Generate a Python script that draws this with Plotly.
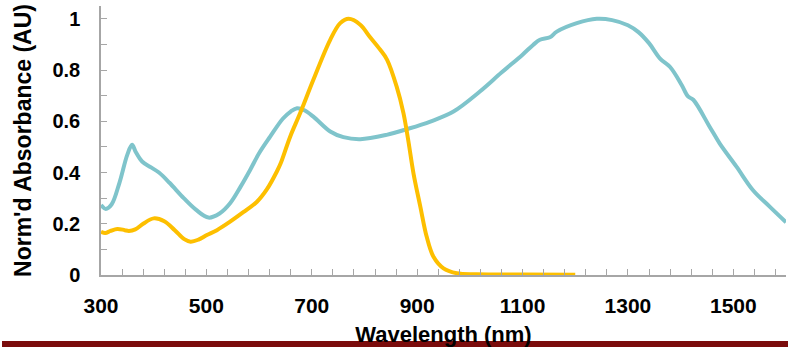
import plotly.graph_objects as go

# Data
teal_nm = [300, 309, 320, 335, 350, 359, 366, 378, 395, 410, 430, 457, 480, 504, 525, 545,
           565, 583, 600, 621, 645, 660, 672, 686, 703, 735, 760, 792, 842, 880, 925, 969, 1019,
           1060, 1100, 1120, 1133, 1152, 1165, 1203, 1241, 1270, 1300, 1320, 1340, 1361, 1380,
           1402, 1414, 1424, 1455, 1474, 1506, 1537, 1569, 1600]
teal_abs = [0.273, 0.258, 0.275, 0.36, 0.47, 0.508, 0.48, 0.443, 0.42, 0.40, 0.36, 0.30, 0.255,
            0.224, 0.24, 0.28, 0.345, 0.41, 0.475, 0.54, 0.61, 0.638, 0.651, 0.643, 0.618, 0.56,
            0.538, 0.53, 0.547, 0.569, 0.599, 0.638, 0.716, 0.79, 0.86, 0.898, 0.918, 0.928,
            0.95, 0.983, 1.0, 0.995, 0.975, 0.948, 0.905, 0.845, 0.812, 0.742, 0.697, 0.684,
            0.579, 0.514, 0.423, 0.332, 0.267, 0.206]

gold_nm = [300, 308, 318, 331, 345, 353, 365, 380, 400, 420, 440, 458, 470, 485, 501, 520, 545,
           570, 596, 615, 634, 641, 659, 678, 703, 735, 754, 770, 792, 810, 830, 843, 861, 874,
           883, 893, 906, 918, 931, 950, 975, 1013, 1100, 1200]
gold_abs = [0.169, 0.164, 0.172, 0.18, 0.175, 0.172, 0.178, 0.2, 0.221, 0.21, 0.175, 0.14, 0.13,
            0.138, 0.156, 0.175, 0.208, 0.245, 0.286, 0.335, 0.405, 0.436, 0.54, 0.632, 0.762,
            0.918, 0.983, 1.0, 0.977, 0.93, 0.879, 0.84, 0.736, 0.632, 0.527, 0.397, 0.267,
            0.15, 0.071, 0.026, 0.007, 0.003, 0.002, 0.001]

x_title = "Wavelength (nm)"
y_title = "Norm'd Absorbance (AU)"

TEAL = "#7fc4cb"
GOLD = "#fdbf00"
AXIS = "#a6a6a6"
FONT = "Liberation Sans, Arial, sans-serif"

fig = go.Figure()
fig.add_trace(go.Scatter(x=teal_nm, y=teal_abs, mode="lines",
                         line=dict(color=TEAL, width=4, shape="spline", smoothing=1.0),
                         showlegend=False))
fig.add_trace(go.Scatter(x=gold_nm, y=gold_abs, mode="lines",
                         line=dict(color=GOLD, width=4, shape="spline", smoothing=1.0),
                         showlegend=False))

fig.update_layout(
    width=788, height=347,
    margin=dict(l=101, r=2, t=6, b=72),
    paper_bgcolor="white", plot_bgcolor="white",
    font=dict(family=FONT, color="black"),
    xaxis=dict(
        range=[300, 1600], tick0=300, dtick=200,
        showgrid=False, zeroline=False,
        showline=True, linecolor=AXIS, linewidth=1.5,
        ticks="inside", ticklen=6, tickcolor=AXIS, tickwidth=1,
        minor=dict(tick0=300, dtick=40, ticks="inside", ticklen=6, tickcolor=AXIS, tickwidth=1,
                   showgrid=False),
        tickfont=dict(family=FONT, size=21, weight="bold", color="black"),
        ticklabelstandoff=11,
        title=dict(text=x_title, font=dict(family=FONT, size=22, weight="bold"), standoff=11),
    ),
    yaxis=dict(
        range=[0, 1.05], tick0=0, dtick=0.2,
        showgrid=False, zeroline=False,
        showline=True, linecolor=AXIS, linewidth=1.5,
        ticks="inside", ticklen=6, tickcolor=AXIS, tickwidth=1,
        minor=dict(tick0=0, dtick=0.1, ticks="inside", ticklen=6, tickcolor=AXIS, tickwidth=1,
                   showgrid=False),
        tickfont=dict(family=FONT, size=20, weight="bold", color="black"),
        ticklabelstandoff=15,
        title=dict(text=y_title, font=dict(family=FONT, size=23, weight="bold"), standoff=14),
    ),
    shapes=[dict(type="rect", xref="paper", yref="paper",
                 x0=-0.1445, x1=1.003, y0=-0.268, y1=-0.2454,
                 fillcolor="#7b0c0c", line=dict(width=0), layer="above")],
)

fig.write_html("out.html")
